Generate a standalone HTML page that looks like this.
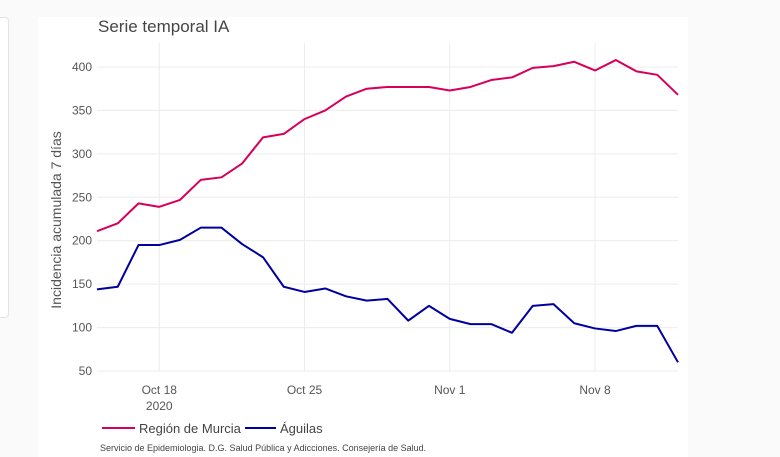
<!DOCTYPE html>
<html><head><meta charset="utf-8"><style>
body{margin:0;width:780px;height:457px;background:#fafafa;overflow:hidden;font-family:"Liberation Sans","DejaVu Sans",sans-serif;position:relative}
#card{position:absolute;left:-4px;top:17px;width:11px;height:299px;background:#fff;border:1px solid #e3e3e3;border-radius:4px}
#panel{position:absolute;left:38px;top:17px;width:650px;height:440px;background:#fff}
svg{position:absolute;left:0;top:0}
</style></head><body>
<div id="card"></div>
<div id="panel"></div>
<svg id="chart" width="780" height="457" font-family="Liberation Sans, DejaVu Sans, sans-serif">
<text x="98" y="32" font-size="17" fill="#444">Serie temporal IA</text>
<text transform="translate(61,220) rotate(-90)" text-anchor="middle" font-size="14" fill="#555">Incidencia acumulada 7 días</text>
<g id="grid"></g><g id="lines"></g>
<line x1="102" y1="428" x2="135" y2="428" stroke="#d6005c" stroke-width="2"/>
<text x="139" y="433" font-size="13" fill="#444">Región de Murcia</text>
<line x1="245" y1="428" x2="276" y2="428" stroke="#0000a0" stroke-width="2"/>
<text x="280" y="433" font-size="13" fill="#444">Águilas</text>
<text x="100" y="451" font-size="9" fill="#444">Servicio de Epidemiologia. D.G. Salud Pública y Adicciones. Consejería de Salud.</text>
</svg>
<script>
const murcia=[211,220,243,239,247,270,273,289,319,323,340,350,366,375,377,377,377,373,377,385,388,399,401,406,396,408,395,391,368];
const aguilas=[144,147,195,195,201,215,215,196,181,147,141,145,136,131,133,108,125,110,104,104,94,125,127,105,99,96,102,102,60];
const yTicks=[50,100,150,200,250,300,350,400];
const xTickDays=[3,10,17,24];
const xTickLabels=["Oct 18","Oct 25","Nov 1","Nov 8"];
const NS="http://www.w3.org/2000/svg";
const x0=97,dayW=(678-97)/28;
const X=d=>x0+d*dayW;
const Y=v=>371-(v-50)*(304/350);
const grid=document.getElementById('grid'),lines=document.getElementById('lines');
function mk(t,a,p){const e=document.createElementNS(NS,t);for(const k in a)e.setAttribute(k,a[k]);p.appendChild(e);return e;}
yTicks.forEach(v=>{
 const l=mk('line',{x1:97,x2:678,y1:Y(v),y2:Y(v),stroke:'#ececec'},grid);
 
 
 const t=mk('text',{x:92,y:Y(v)+4,'text-anchor':'end','font-size':12,fill:'#555'},grid);
 t.textContent=v;
 
 
});
xTickDays.forEach((d,i)=>{
 const l=mk('line',{x1:X(d),x2:X(d),y1:43,y2:371,stroke:'#ececec'},grid);
 
 
 const t=mk('text',{x:X(d),y:394,'text-anchor':'middle','font-size':12,fill:'#555'},grid);
 t.textContent=xTickLabels[i];
 
 
});
const yr=mk('text',{x:X(3),y:410,'text-anchor':'middle','font-size':12,fill:'#555'},grid);
yr.textContent='2020';


function series(vals,color,name){
 const p=mk('polyline',{points:vals.map((v,i)=>X(i)+','+Y(v)).join(' '),fill:'none',stroke:color,'stroke-width':2,'stroke-linejoin':'round'},lines);
 
 
}
series(murcia,'#d6005c','line-region-de-murcia');
series(aguilas,'#0000a0','line-aguilas');
</script>
</body></html>
